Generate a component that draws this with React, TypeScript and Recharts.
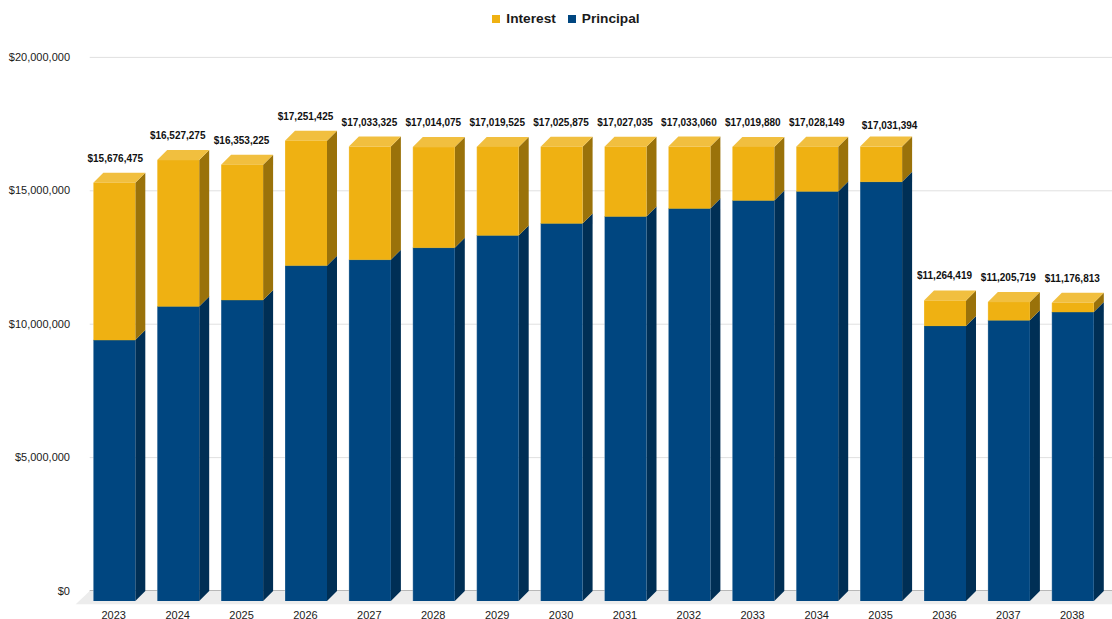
import { BarChart, Bar, XAxis, YAxis, CartesianGrid, Legend, LabelList, usePlotArea } from 'recharts'

// ─── Data ─────────────────────────────────────────────────────────────────────

const years = ['2023', '2024', '2025', '2026', '2027', '2028', '2029', '2030', '2031', '2032', '2033', '2034', '2035', '2036', '2037', '2038']
const principal = [9780000, 11040000, 11280000, 12570000, 12790000, 13240000, 13700000, 14150000, 14410000, 14710000, 15010000, 15350000, 15710000, 10310000, 10520000, 10830000]
const interest = [5896475, 5487275, 5073225, 4681425, 4243325, 3774075, 3319525, 2875875, 2617035, 2323060, 2009880, 1678149, 1321394, 954419, 685719, 346813]
const totals = [15676475, 16527275, 16353225, 17251425, 17033325, 17014075, 17019525, 17025875, 17027035, 17033060, 17019880, 17028149, 17031394, 11264419, 11205719, 11176813]
const yTicks = [0, 5000000, 10000000, 15000000, 20000000]

const chartData = years.map((year, i) => ({
  year,
  principal: principal[i],
  interest: interest[i],
  total: totals[i],
}))

// ─── Constants ────────────────────────────────────────────────────────────────

const FONT = "'Liberation Sans', Arial, sans-serif"
const WIDTH = 1112
const HEIGHT = 619
const DEPTH = 10
const TEXT = '#1a1a1a'
const LEGEND_H = 20

const GOLD = { front: '#efb112', top: '#f1bf3f', side: '#9a720a' }
const NAVY = { front: '#004680', top: '#2a6296', side: '#002f55' }

const money = (v: number) => '$' + v.toLocaleString('en-US')

// ─── 3D pieces ────────────────────────────────────────────────────────────────

function Block({ x, y, width, height, colors, lid }: any) {
  const r = x + width
  const b = y + height
  return (
    <g>
      <polygon
        points={`${r},${y} ${r + DEPTH},${y - DEPTH} ${r + DEPTH},${b - DEPTH} ${r},${b}`}
        fill={colors.side}
      />
      {lid && (
        <polygon
          points={`${x},${y} ${x + DEPTH},${y - DEPTH} ${r + DEPTH},${y - DEPTH} ${r},${y}`}
          fill={colors.top}
        />
      )}
      <rect x={x} y={y} width={width} height={height} fill={colors.front} />
      {/* faint light edge down the left side, dark seam where the two parts meet */}
      <line x1={x} x2={x} y1={y} y2={b} stroke="#fff" strokeOpacity={0.25} strokeWidth={1} />
      {!lid && <line x1={x} x2={r} y1={y} y2={y} stroke="#4d6a45" strokeOpacity={0.6} strokeWidth={1} />}
    </g>
  )
}

function Floor() {
  const plot = usePlotArea()
  if (!plot) return null
  const front = plot.y + plot.height
  const back = front - DEPTH
  const left = plot.x + 7.4
  return <polygon points={`${left},${back} ${WIDTH},${back} ${WIDTH},${front + 3.2} ${left - 14},${front + 3.2}`} fill="#ececec" />
}

function GridLine({ x1, y1, y2, index }: any) {
  return (
    <line
      x1={x1 + 7.4}
      x2={WIDTH}
      y1={y1 - DEPTH}
      y2={y2 - DEPTH}
      stroke={index === 0 ? '#6e6e6e' : '#e0e0e0'}
      strokeWidth={1}
    />
  )
}

function YTick({ y, payload }: any) {
  return (
    <text x={70} y={y - DEPTH + 3.5} textAnchor="end" fontFamily={FONT} fontSize={11} fill={TEXT}>
      {money(payload.value)}
    </text>
  )
}

function XTick({ x, payload }: any) {
  return (
    <text x={x - 0.5} y={HEIGHT - 0.5} textAnchor="middle" fontFamily={FONT} fontSize={11} fill={TEXT}>
      {payload.value}
    </text>
  )
}

function TotalLabel({ x, y, width, value, index }: any) {
  // the 2023 and 2035 labels sit off-centre in the original
  let dx = 0
  let dy = 0
  if (index === 0) dx = 1.5
  if (index === 12) {
    dx = 9
    dy = 3
  }
  return (
    <text
      x={x + width / 2 - 0.5 + dx}
      y={y - 21 + dy}
      textAnchor="middle"
      fontFamily={FONT}
      fontSize={10}
      fontWeight={700}
      fill="#111"
    >
      {money(value)}
    </text>
  )
}

function TopLegend() {
  const items = [
    { label: 'Interest', color: GOLD.front },
    { label: 'Principal', color: NAVY.front },
  ]
  return (
    <div style={{ display: 'flex', justifyContent: 'center', gap: 12, fontFamily: FONT, fontSize: 13.7, fontWeight: 700, color: TEXT, height: LEGEND_H, lineHeight: '20px', paddingLeft: 20 }}>
      {items.map((item) => (
        <div key={item.label} style={{ display: 'flex', alignItems: 'center', gap: 6 }}>
          <div style={{ width: 8, height: 8, backgroundColor: item.color }} />
          <span>{item.label}</span>
        </div>
      ))}
    </div>
  )
}

// ─── Component ────────────────────────────────────────────────────────────────

export default function App() {
  return (
    <div style={{ position: 'absolute', left: 0, top: 0, width: WIDTH, height: HEIGHT, background: '#fff' }}>
      <BarChart
        width={WIDTH}
        height={HEIGHT}
        data={chartData}
        margin={{ top: 67.4 - LEGEND_H, right: 7.3, left: 0, bottom: 0 }}
        barCategoryGap={11}
        barSize={42}
      >
        <Legend
          content={<TopLegend />}
          verticalAlign="top"
          wrapperStyle={{ position: 'absolute', top: 9, left: 0, width: WIDTH, height: LEGEND_H }}
        />
        <Floor />
        <CartesianGrid vertical={false} horizontal={(p: any) => <GridLine key={p.index} {...p} />} />
        <XAxis dataKey="year" axisLine={false} tickLine={false} height={18} tick={<XTick />} interval={0} />
        <YAxis
          domain={[0, 20000000]}
          ticks={yTicks}
          width={82.3}
          axisLine={false}
          tickLine={false}
          tick={<YTick />}
        />
        <Bar
          dataKey="principal"
          stackId="a"
          isAnimationActive={false}
          shape={(p: any) => <Block {...p} colors={NAVY} />}
        />
        <Bar
          dataKey="interest"
          stackId="a"
          isAnimationActive={false}
          shape={(p: any) => <Block {...p} colors={GOLD} lid />}
        >
          <LabelList dataKey="total" content={<TotalLabel />} />
        </Bar>
      </BarChart>
    </div>
  )
}
